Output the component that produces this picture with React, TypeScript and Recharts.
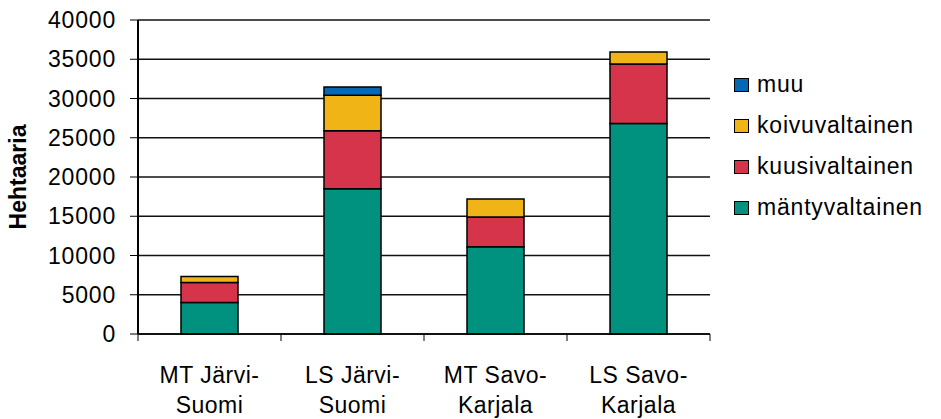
import { BarChart, Bar, XAxis, YAxis, CartesianGrid } from 'recharts';

const categories = ['MT Järvi-Suomi', 'LS Järvi-Suomi', 'MT Savo-Karjala', 'LS Savo-Karjala'];
const mantyvaltainen = [4000, 18500, 11100, 26800];
const kuusivaltainen = [2550, 7400, 3800, 7600];
const koivuvaltainen = [760, 4500, 2300, 1530];
const muu = [0, 1050, 0, 0];
const yTicks = [0, 5000, 10000, 15000, 20000, 25000, 30000, 35000, 40000];

const series = [
  { key: 'mantyvaltainen', label: 'mäntyvaltainen', color: '#00927F' },
  { key: 'kuusivaltainen', label: 'kuusivaltainen', color: '#D6344A' },
  { key: 'koivuvaltainen', label: 'koivuvaltainen', color: '#F0B416' },
  { key: 'muu', label: 'muu', color: '#0568B6' },
];

const data = categories.map((name, i) => ({
  name,
  mantyvaltainen: mantyvaltainen[i],
  kuusivaltainen: kuusivaltainen[i],
  koivuvaltainen: koivuvaltainen[i],
  muu: muu[i],
}));

const FONT = '"Liberation Sans", Arial, sans-serif';
const BAND = 572 / categories.length;

function CategoryTick(props: any) {
  const { x, y, payload, index } = props;
  const lines = String(payload.value).replace('-', '-\n').split('\n');
  const left = x - BAND / 2;
  return (
    <g>
      <line x1={left} x2={left} y1={y} y2={y + 7} stroke="#000" strokeWidth={1} />
      {index === categories.length - 1 && (
        <line x1={x + BAND / 2} x2={x + BAND / 2} y1={y} y2={y + 7} stroke="#000" strokeWidth={1} />
      )}
      <text x={x} y={y + 49} textAnchor="middle" fontSize={23} fontFamily={FONT} fill="#000" letterSpacing={0.5}>
        {lines.map((l, i) => (
          <tspan key={i} x={x} dy={i === 0 ? 0 : 30}>{l}</tspan>
        ))}
      </text>
    </g>
  );
}

function YTitle(props: any) {
  const vb = props.viewBox;
  const cx = vb.x + 18;
  const cy = vb.y + vb.height / 2;
  return (
    <text
      x={cx}
      y={cy}
      transform={`rotate(-90 ${cx} ${cy})`}
      textAnchor="middle"
      dominantBaseline="central"
      fontSize={23}
      fontWeight="bold"
      fontFamily={FONT}
      fill="#000"
    >
      Hehtaaria
    </text>
  );
}

export default function App() {
  const legendItems = [...series].reverse();
  return (
    <div style={{ position: 'relative', width: 941, height: 419, background: '#fff', fontFamily: FONT }}>
      <style>{'body{margin:0}'}</style>
      <BarChart width={941} height={419} data={data} margin={{ top: 20, right: 231, bottom: 0, left: 0 }}>
        <CartesianGrid vertical={false} stroke="#111" strokeWidth={1.3} />
        <XAxis
          dataKey="name"
          height={85}
          axisLine={{ stroke: '#000', strokeWidth: 1.5 }}
          tickLine={false}
          tickSize={0}
          tickMargin={0}
          interval={0}
          tick={<CategoryTick />}
        />
        <YAxis
          width={138}
          domain={[0, 40000]}
          ticks={yTicks}
          interval={0}
          axisLine={{ stroke: '#000', strokeWidth: 2 }}
          tickLine={{ stroke: '#000' }}
          tickSize={8}
          tickMargin={14}
          tick={{ fontSize: 23, fill: '#000', fontFamily: FONT, letterSpacing: 0.8 }}
          label={<YTitle />}
        />
        <YAxis
          yAxisId="r"
          orientation="right"
          width={0}
          domain={[0, 40000]}
          tick={false}
          tickLine={false}
          axisLine={{ stroke: '#000', strokeWidth: 2 }}
        />
        {series.map((s) => (
          <Bar
            key={s.key}
            dataKey={s.key}
            stackId="a"
            fill={s.color}
            stroke="#000"
            strokeWidth={1.5}
            barSize={57}
            isAnimationActive={false}
          />
        ))}
      </BarChart>
      <div style={{ position: 'absolute', left: 734, top: 64, display: 'flex', flexDirection: 'column' }}>
        {legendItems.map((s) => (
          <div key={s.key} style={{ height: 41, display: 'flex', alignItems: 'center' }}>
            <span
              style={{
                display: 'inline-block',
                width: 13,
                height: 12,
                background: s.color,
                border: '1.5px solid #000',
                marginRight: 8,
              }}
            />
            <span style={{ fontSize: 23, color: '#000', letterSpacing: 0.8 }}>{s.label}</span>
          </div>
        ))}
      </div>
    </div>
  );
}
